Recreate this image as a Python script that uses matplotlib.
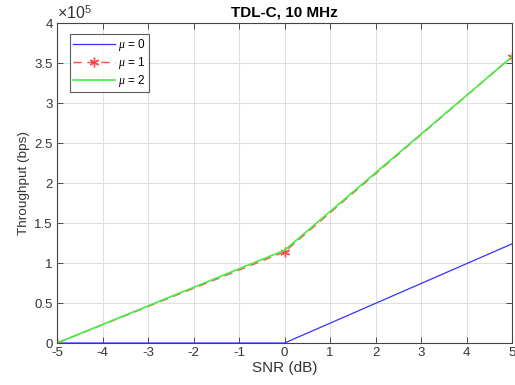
import matplotlib
matplotlib.use("Agg")
import matplotlib.pyplot as plt
from matplotlib.ticker import FuncFormatter

plt.rcParams["font.family"] = ["Liberation Sans", "DejaVu Sans"]
plt.rcParams["mathtext.fontset"] = "custom"
plt.rcParams["mathtext.it"] = "Liberation Serif:italic"
plt.rcParams["mathtext.rm"] = "Liberation Sans"
plt.rcParams["axes.unicode_minus"] = False

snr_db = [-5, 0, 5]
thr_mu0 = [0, 0, 1.24e5]
thr_mu1 = [0, 1.14e5, 3.58e5]
thr_mu2 = [0, 1.16e5, 3.58e5]

fig = plt.figure(figsize=(5.15, 3.85), dpi=100)
ax = fig.add_axes([0.1107, 0.109, 0.8835, 0.831])

ax.plot(snr_db, thr_mu0, color="#3333ff", lw=0.9, label=r"$\mu$ = 0")
ax.plot(snr_db, thr_mu1, color="#ff3030", lw=1.0, ls=(0, (6, 4)),
        marker=(6, 2, 0), ms=7, mew=1.0, alpha=0.85, label=r"$\mu$ = 1")
ax.plot(snr_db, thr_mu2, color="#44ee44", lw=1.2, label=r"$\mu$ = 2")

ax.set_xlim(-5, 5)
ax.set_ylim(0, 4e5)
ax.set_xticks(range(-5, 6))
ax.set_yticks([i * 0.5e5 for i in range(9)])

# tick labels in units of 1e5, exponent shown once above the axis
ax.yaxis.set_major_formatter(FuncFormatter(lambda v, p: f"{v / 1e5:g}"))
ax.text(0.0, 1.003, r"$\times$10$^5$", transform=ax.transAxes, fontsize=11.5,
        color="#333333", ha="left", va="bottom")

ax.grid(True, color="#e0e0e0", lw=0.8)
ax.set_axisbelow(True)
for s in ax.spines.values():
    s.set_color("#444444")
    s.set_linewidth(0.8)
ax.tick_params(direction="in", length=4, width=0.6, top=True, right=True,
               labelsize=9.5, colors="#333333", pad=3)

ax.set_xlabel("SNR (dB)", fontsize=11, color="#333333", labelpad=1)
ax.set_ylabel("Throughput (bps)", fontsize=9.7, color="#333333", labelpad=3)
ax.set_title("TDL-C, 10 MHz", fontsize=11, fontweight="bold", pad=5)

leg = ax.legend(loc="upper left", fontsize=8.5, handlelength=3.5,
                fancybox=False, edgecolor="#333333", borderpad=0.3,
                labelspacing=0.15, handletextpad=0.3, bbox_to_anchor=(0.015, 0.985))
leg.get_frame().set_linewidth(0.8)

fig.savefig("out.png", dpi=100)
